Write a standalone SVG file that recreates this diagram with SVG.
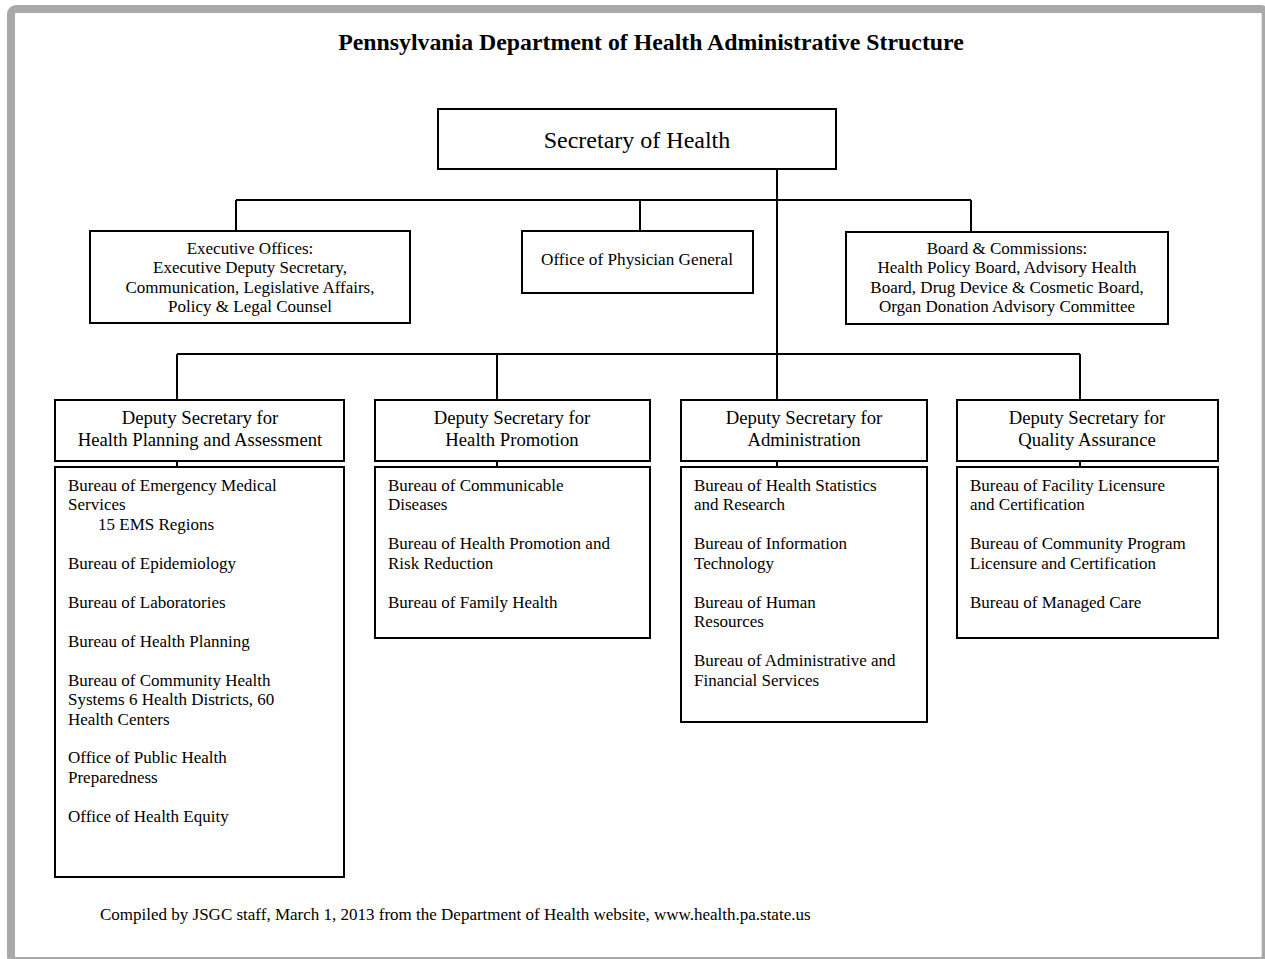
<svg xmlns="http://www.w3.org/2000/svg" width="1265" height="959" viewBox="0 0 1265 959">
<style>
.box{fill:#fff;stroke:#000;stroke-width:2}
.ln{stroke:#000;stroke-width:2;fill:none}
text{font-family:"Liberation Serif","Times New Roman",serif;fill:#000}
.c{text-anchor:middle}
.t16{font-size:17px}
.t18{font-size:18.7px}
</style>
<rect width="1265" height="959" fill="#fff"/>
<rect x="11" y="9" width="1254.7" height="952" rx="5" fill="none" stroke="#a9a9a9" stroke-width="8"/>
<text x="651" y="50" class="c" style="font-size:23.8px;font-weight:bold">Pennsylvania Department of Health Administrative Structure</text>
<g id="connectors">
<line class="ln" x1="777" y1="170" x2="777" y2="400"/>
<line class="ln" x1="236" y1="200" x2="971" y2="200"/>
<line class="ln" x1="236" y1="200" x2="236" y2="231"/>
<line class="ln" x1="640" y1="200" x2="640" y2="231"/>
<line class="ln" x1="971" y1="200" x2="971" y2="232"/>
<line class="ln" x1="177" y1="354" x2="1080" y2="354"/>
<line class="ln" x1="177" y1="354" x2="177" y2="400"/>
<line class="ln" x1="497" y1="354" x2="497" y2="400"/>
<line class="ln" x1="1080" y1="354" x2="1080" y2="400"/>
<line class="ln" x1="177" y1="461" x2="177" y2="467"/>
<line class="ln" x1="497" y1="461" x2="497" y2="467"/>
<line class="ln" x1="777" y1="461" x2="777" y2="467"/>
<line class="ln" x1="1080" y1="461" x2="1080" y2="467"/>
</g>
<g id="secretary">
<rect class="box" x="438" y="109" width="398" height="60"/>
<text x="637" y="148" class="c" style="font-size:24px">Secretary of Health</text>
</g>
<g id="executive-offices">
<rect class="box" x="90" y="231" width="320" height="92"/>
<text class="c t16" x="250" y="254">Executive Offices:</text>
<text class="c t16" x="250" y="273">Executive Deputy Secretary,</text>
<text class="c t16" x="250" y="293">Communication, Legislative Affairs,</text>
<text class="c t16" x="250" y="312">Policy &amp; Legal Counsel</text>
</g>
<g id="physician-general">
<rect class="box" x="522" y="231" width="231" height="62"/>
<text class="c t16" x="637" y="265" style="font-size:17.2px">Office of Physician General</text>
</g>
<g id="boards">
<rect class="box" x="846" y="232" width="322" height="92"/>
<text class="c t16" x="1007" y="254">Board &amp; Commissions:</text>
<text class="c t16" x="1007" y="273">Health Policy Board, Advisory Health</text>
<text class="c t16" x="1007" y="293">Board, Drug Device &amp; Cosmetic Board,</text>
<text class="c t16" x="1007" y="312">Organ Donation Advisory Committee</text>
</g>
<g id="ds-planning">
<rect class="box" x="55" y="400" width="289" height="61"/>
<text class="c t18" x="200" y="424">Deputy Secretary for</text>
<text class="c t18" x="200" y="446">Health Planning and Assessment</text>
</g>
<g id="bureaus-planning">
<rect class="box" x="55" y="467" width="289" height="410"/>
<text class="t16" x="68" y="491">Bureau of Emergency Medical</text>
<text class="t16" x="68" y="510">Services</text>
<text class="t16" x="98" y="530">15 EMS Regions</text>
<text class="t16" x="68" y="569">Bureau of Epidemiology</text>
<text class="t16" x="68" y="608">Bureau of Laboratories</text>
<text class="t16" x="68" y="647">Bureau of Health Planning</text>
<text class="t16" x="68" y="686">Bureau of Community Health</text>
<text class="t16" x="68" y="705">Systems 6 Health Districts, 60</text>
<text class="t16" x="68" y="725">Health Centers</text>
<text class="t16" x="68" y="763">Office of Public Health</text>
<text class="t16" x="68" y="783">Preparedness</text>
<text class="t16" x="68" y="822">Office of Health Equity</text>
</g>
<g id="ds-promotion">
<rect class="box" x="375" y="400" width="275" height="61"/>
<text class="c t18" x="512" y="424">Deputy Secretary for</text>
<text class="c t18" x="512" y="446">Health Promotion</text>
</g>
<g id="bureaus-promotion">
<rect class="box" x="375" y="467" width="275" height="171"/>
<text class="t16" x="388" y="491">Bureau of Communicable</text>
<text class="t16" x="388" y="510">Diseases</text>
<text class="t16" x="388" y="549">Bureau of Health Promotion and</text>
<text class="t16" x="388" y="569">Risk Reduction</text>
<text class="t16" x="388" y="608">Bureau of Family Health</text>
</g>
<g id="ds-administration">
<rect class="box" x="681" y="400" width="246" height="61"/>
<text class="c t18" x="804" y="424">Deputy Secretary for</text>
<text class="c t18" x="804" y="446">Administration</text>
</g>
<g id="bureaus-administration">
<rect class="box" x="681" y="467" width="246" height="255"/>
<text class="t16" x="694" y="491">Bureau of Health Statistics</text>
<text class="t16" x="694" y="510">and Research</text>
<text class="t16" x="694" y="549">Bureau of Information</text>
<text class="t16" x="694" y="569">Technology</text>
<text class="t16" x="694" y="608">Bureau of Human</text>
<text class="t16" x="694" y="627">Resources</text>
<text class="t16" x="694" y="666">Bureau of Administrative and</text>
<text class="t16" x="694" y="686">Financial Services</text>
</g>
<g id="ds-quality">
<rect class="box" x="957" y="400" width="261" height="61"/>
<text class="c t18" x="1087" y="424">Deputy Secretary for</text>
<text class="c t18" x="1087" y="446">Quality Assurance</text>
</g>
<g id="bureaus-quality">
<rect class="box" x="957" y="467" width="261" height="171"/>
<text class="t16" x="970" y="491">Bureau of Facility Licensure</text>
<text class="t16" x="970" y="510">and Certification</text>
<text class="t16" x="970" y="549">Bureau of Community Program</text>
<text class="t16" x="970" y="569">Licensure and Certification</text>
<text class="t16" x="970" y="608">Bureau of Managed Care</text>
</g>
<text x="100" y="920" style="font-size:17px">Compiled by JSGC staff, March 1, 2013 from the Department of Health website, www.health.pa.state.us</text>
</svg>
